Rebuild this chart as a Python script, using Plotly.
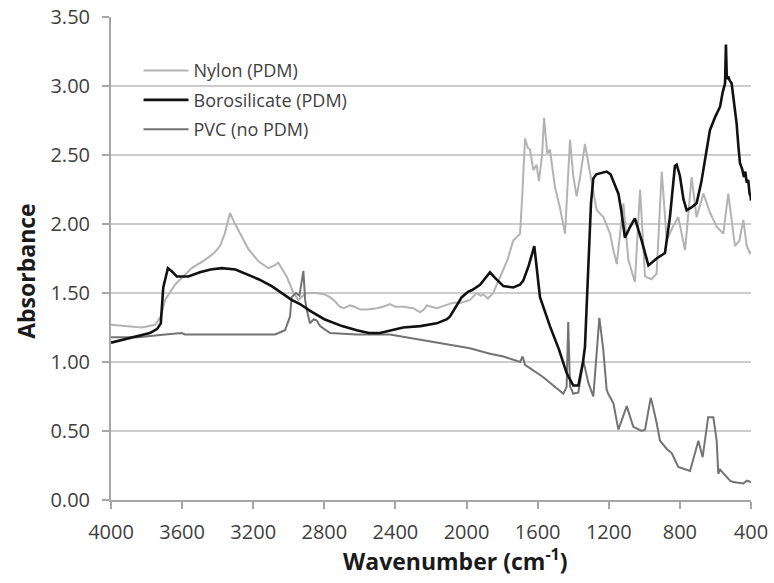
import plotly.graph_objects as go

# FTIR absorbance spectra (wavenumber in cm-1, absorbance)
nylon_wn = [4000, 3921, 3827, 3752, 3720, 3696, 3640, 3546, 3471, 3420, 3387, 3360, 3331, 3302,
            3270, 3228, 3171, 3115, 3080, 3059, 3040, 3012, 2974, 2946, 2920, 2899, 2850, 2800,
            2768, 2740, 2712, 2690, 2656, 2630, 2599, 2560, 2505, 2470, 2431, 2400, 2356, 2300,
            2262, 2240, 2224, 2200, 2168, 2120, 2074, 2030, 1981, 1943, 1920, 1906, 1880, 1850,
            1812, 1770, 1737, 1699, 1685, 1671, 1655, 1643, 1624, 1606, 1593, 1575, 1564, 1546,
            1531, 1503, 1475, 1446, 1418, 1400, 1381, 1360, 1334, 1306, 1268, 1230, 1193, 1174,
            1155, 1118, 1090, 1053, 1024, 996, 960, 931, 902, 874, 840, 809, 771, 734, 706, 668,
            630, 593, 556, 528, 490, 465, 443, 424, 406, 400]
nylon_abs = [1.27, 1.26, 1.25, 1.27, 1.33, 1.45, 1.56, 1.68, 1.74, 1.79, 1.84, 1.93, 2.08, 2.00,
             1.92, 1.82, 1.73, 1.68, 1.70, 1.72, 1.68, 1.62, 1.50, 1.45, 1.48, 1.50, 1.50, 1.49,
             1.47, 1.44, 1.40, 1.39, 1.41, 1.40, 1.38, 1.38, 1.39, 1.40, 1.42, 1.40, 1.40, 1.39,
             1.36, 1.38, 1.41, 1.40, 1.39, 1.41, 1.43, 1.43, 1.45, 1.50, 1.48, 1.49, 1.46, 1.50,
             1.62, 1.74, 1.88, 1.93, 2.25, 2.62, 2.55, 2.54, 2.39, 2.43, 2.31, 2.50, 2.77, 2.51,
             2.54, 2.27, 2.12, 1.93, 2.61, 2.35, 2.20, 2.35, 2.58, 2.37, 2.10, 2.05, 1.93, 1.81,
             1.71, 2.15, 1.74, 1.58, 2.25, 1.62, 1.60, 1.64, 2.38, 1.88, 1.98, 2.05, 1.81, 2.34,
             2.05, 2.22, 2.08, 1.98, 1.93, 2.22, 1.84, 1.88, 2.03, 1.84, 1.79, 1.80]

boro_wn = [4000, 3900, 3781, 3740, 3720, 3706, 3690, 3680, 3660, 3630, 3565, 3500, 3440, 3377,
           3300, 3246, 3170, 3096, 3040, 2984, 2937, 2880, 2800, 2700, 2618, 2550, 2487, 2420,
           2357, 2260, 2168, 2110, 2093, 2060, 2027, 1990, 1971, 1924, 1890, 1868, 1840, 1793,
           1737, 1700, 1681, 1650, 1619, 1600, 1587, 1531, 1480, 1437, 1400, 1371, 1345, 1334,
           1315, 1300, 1287, 1270, 1212, 1190, 1146, 1130, 1109, 1080, 1053, 1015, 977, 950,
           931, 884, 856, 828, 818, 800, 780, 762, 735, 706, 680, 649, 631, 600, 574, 560, 546,
           541, 536, 528, 520, 509, 495, 481, 470, 462, 450, 440, 432, 424, 416, 408, 402, 400]
boro_abs = [1.14, 1.17, 1.21, 1.24, 1.28, 1.54, 1.64, 1.68, 1.66, 1.62, 1.62, 1.65, 1.67, 1.68,
            1.67, 1.64, 1.60, 1.55, 1.50, 1.45, 1.42, 1.37, 1.31, 1.26, 1.23, 1.21, 1.21, 1.23,
            1.25, 1.26, 1.28, 1.31, 1.33, 1.40, 1.47, 1.51, 1.52, 1.56, 1.62, 1.65, 1.61, 1.55,
            1.54, 1.56, 1.59, 1.70, 1.84, 1.62, 1.47, 1.26, 1.09, 0.92, 0.83, 0.83, 1.00, 1.11,
            1.64, 2.15, 2.33, 2.36, 2.38, 2.36, 2.22, 2.10, 1.90, 1.98, 2.04, 1.88, 1.70, 1.73,
            1.75, 1.79, 2.05, 2.42, 2.43, 2.35, 2.18, 2.10, 2.12, 2.15, 2.30, 2.54, 2.68, 2.78,
            2.85, 2.95, 3.02, 3.30, 3.05, 3.07, 3.04, 3.02, 2.88, 2.73, 2.55, 2.44, 2.40, 2.34,
            2.38, 2.30, 2.32, 2.22, 2.20, 2.17]

pvc_wn = [4000, 3846, 3696, 3602, 3584, 3400, 3200, 3077, 3021, 2993, 2984, 2960, 2940, 2930,
          2918, 2908, 2899, 2881, 2860, 2843, 2824, 2768, 2618, 2431, 2243, 2056, 1981, 1868,
          1793, 1699, 1685, 1671, 1568, 1456, 1437, 1428, 1418, 1409, 1400, 1371, 1343, 1315,
          1287, 1253, 1231, 1212, 1203, 1174, 1146, 1099, 1062, 1015, 996, 964, 959, 931, 912,
          874, 846, 809, 743, 696, 672, 641, 612, 593, 584, 574, 518, 500, 452, 443, 424, 400]
pvc_abs = [1.18, 1.18, 1.20, 1.21, 1.20, 1.20, 1.20, 1.20, 1.23, 1.33, 1.47, 1.50, 1.48, 1.55,
           1.66, 1.45, 1.38, 1.28, 1.31, 1.30, 1.26, 1.21, 1.20, 1.20, 1.16, 1.12, 1.10, 1.06,
           1.04, 1.00, 1.04, 0.98, 0.89, 0.77, 0.82, 1.29, 0.82, 0.80, 0.77, 0.78, 1.01, 0.85,
           0.75, 1.32, 1.09, 0.80, 0.77, 0.70, 0.51, 0.68, 0.53, 0.50, 0.51, 0.74, 0.72, 0.56,
           0.43, 0.37, 0.34, 0.24, 0.21, 0.43, 0.31, 0.60, 0.60, 0.43, 0.19, 0.22, 0.14, 0.13,
           0.12, 0.12, 0.14, 0.13]

x_ticks = [4000, 3600, 3200, 2800, 2400, 2000, 1600, 1200, 800, 400]

FONT = "'Open Sans', Lato, sans-serif"
AXIS_GRAY = "#a6a6a6"
TEXT_GRAY = "#3f3f3f"
TITLE_COLOR = "#1a1a1a"

fig = go.Figure()
fig.add_trace(go.Scatter(x=nylon_wn, y=nylon_abs, mode="lines", name="Nylon (PDM)",
                         line=dict(color="#b3b3b3", width=2), legendrank=1, legendgroup="a"))
fig.add_trace(go.Scatter(x=pvc_wn, y=pvc_abs, mode="lines", name="PVC (no PDM)",
                         line=dict(color="#737373", width=2), legendrank=3, legendgroup="c"))
fig.add_trace(go.Scatter(x=boro_wn, y=boro_abs, mode="lines", name="Borosilicate (PDM)",
                         line=dict(color="#111111", width=2.6), legendrank=2, legendgroup="b"))

fig.update_layout(
    width=774, height=583,
    margin=dict(l=111, r=23, t=17, b=83, autoexpand=False),
    paper_bgcolor="white", plot_bgcolor="white",
    font=dict(family=FONT, size=18, color=TEXT_GRAY),
    showlegend=True,
    legend=dict(x=0.043, y=0.927, xanchor="left", yanchor="top",
                bgcolor="rgba(0,0,0,0)", font=dict(size=18, color=TEXT_GRAY),
                tracegroupgap=3, itemwidth=45),
    xaxis=dict(
        range=[4000, 400], tickvals=x_ticks, ticktext=[str(v) for v in x_ticks],
        showgrid=False, zeroline=False, showline=True, linecolor=AXIS_GRAY, linewidth=2,
        ticks="outside", ticklen=7, tickwidth=2, tickcolor=AXIS_GRAY,
        ticklabelstandoff=6, automargin=False,
        tickfont=dict(size=20, color=TEXT_GRAY),
    ),
    yaxis=dict(
        range=[0, 3.5], dtick=0.5, tickformat=".2f",
        showgrid=True, gridcolor="#cccccc", gridwidth=2, zeroline=False,
        showline=True, linecolor=AXIS_GRAY, linewidth=2,
        ticks="outside", ticklen=7, tickwidth=2, tickcolor=AXIS_GRAY,
        ticklabelstandoff=8, automargin=False,
        tickfont=dict(size=20, color=TEXT_GRAY),
    ),
    annotations=[
        dict(text="<b>Wavenumber (cm<sup>-1</sup>)</b>", xref="paper", yref="paper",
             x=0.5375, y=-0.125, xanchor="center", yanchor="middle", showarrow=False,
             font=dict(size=23, color=TITLE_COLOR)),
        dict(text="<b>Absorbance</b>", xref="paper", yref="paper", textangle=-90,
             x=-0.134, y=0.475, xanchor="center", yanchor="middle", showarrow=False,
             font=dict(size=23, color=TITLE_COLOR)),
    ],
)

fig.write_html("out.html")
